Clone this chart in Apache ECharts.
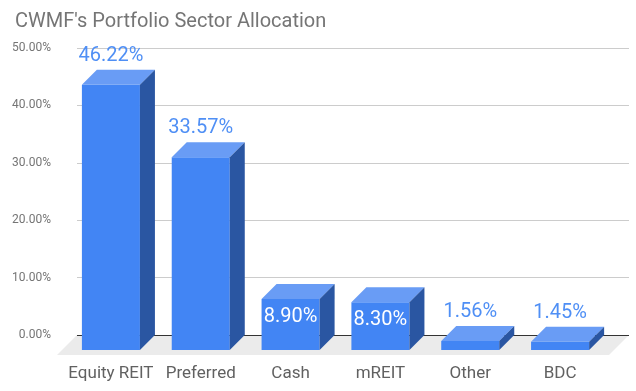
<!DOCTYPE html>
<html><head><meta charset="utf-8">
<script src="https://cdn.jsdelivr.net/npm/echarts@6/dist/echarts.min.js"></script>
<style>html,body{margin:0;padding:0;background:#fff}#c{width:636px;height:391px}</style>
</head><body><div id="c"></div>
<script>
const categories = ['Equity REIT', 'Preferred', 'Cash', 'mREIT', 'Other', 'BDC'];
const values = [46.22, 33.57, 8.90, 8.30, 1.56, 1.45];
const yTicks = [0, 10, 20, 30, 40, 50];
const title = "CWMF's Portfolio Sector Allocation";

const D = 15; // 3D depth
const FONT = 'Roboto';
const chart = echarts.init(document.getElementById('c'), null, {renderer: 'canvas'});

function barItem(params, api) {
  const cat = api.value(0), v = api.value(1);
  const p = api.coord([cat, v]);
  const b = api.coord([cat, 0]);
  const w = api.size([1, 0])[0] * 0.646;
  const x0 = p[0] - w / 2;
  const top = p[1] + D;
  const bottom = b[1] + D;
  const inside = v > 5 && v < 20;
  const lbl = v.toFixed(2) + '%';
  return {
    type: 'group',
    children: [
      {type: 'rect', shape: {x: x0, y: top, width: w, height: bottom - top}, style: {fill: '#4285f4'}},
      {type: 'polygon', shape: {points: [[x0, top], [x0 + D, top - D], [x0 + w + D, top - D], [x0 + w, top]]}, style: {fill: '#699cf5'}},
      {type: 'polygon', shape: {points: [[x0 + w, top], [x0 + w + D, top - D], [x0 + w + D, bottom - D], [x0 + w, bottom]]}, style: {fill: '#2a56a2'}},
      {type: 'text', style: {
        text: lbl, x: p[0], y: inside ? top + 18 : top - D - 14,
        align: 'center', verticalAlign: 'middle',
        font: '20px ' + FONT, fill: inside ? '#ffffff' : '#4f8ff5'
      }}
    ]
  };
}

function floorItem(params, api) {
  const cs = params.coordSys;
  const y0 = cs.y + cs.height;
  const xl = cs.x, xr = cs.x + cs.width;
  return {
    type: 'group',
    children: [
      {type: 'polygon', shape: {points: [[xl, y0], [xr, y0], [xr - 20, y0 + 20], [xl - 20, y0 + 20]]}, style: {fill: '#ebebeb'}},
      {type: 'line', shape: {x1: xl, y1: y0 + 0.5, x2: xr, y2: y0 + 0.5}, style: {stroke: '#333333', lineWidth: 1}}
    ]
  };
}

chart.setOption({
  animation: false,
  backgroundColor: '#ffffff',
  title: {
    text: title, left: 10, top: 7,
    textStyle: {fontFamily: FONT, fontSize: 20, fontWeight: 'normal', color: '#757575'}
  },
  grid: [
    {left: 77, right: 7, top: 48, bottom: 56},
    {left: 66, right: 31, top: 48, bottom: 56}
  ],
  xAxis: [
    {gridIndex: 0, type: 'value', min: 0, max: 1, show: false},
    {gridIndex: 1, type: 'category', data: categories,
      axisLine: {show: false}, axisTick: {show: false},
      axisLabel: {fontFamily: FONT, fontSize: 17, color: '#616161', margin: 30, interval: 0}}
  ],
  yAxis: [
    {gridIndex: 0, type: 'value', min: yTicks[0], max: yTicks[yTicks.length - 1], interval: 10,
      axisLine: {show: false}, axisTick: {show: false},
      splitLine: {lineStyle: {color: '#cccccc', width: 1}},
      axisLabel: {fontFamily: FONT, fontSize: 12, color: '#757575', margin: 26,
        formatter: v => v.toFixed(2) + '%'}},
    {gridIndex: 1, type: 'value', min: yTicks[0], max: yTicks[yTicks.length - 1], interval: 10, show: false}
  ],
  series: [
    {type: 'custom', xAxisIndex: 0, yAxisIndex: 0, data: [[0, 0]], renderItem: floorItem, z: 1, silent: true},
    {type: 'custom', xAxisIndex: 1, yAxisIndex: 1, z: 3,
      data: values.map((v, i) => [i, v]), renderItem: barItem,
      encode: {x: 0, y: 1}}
  ]
});
</script></body></html>
